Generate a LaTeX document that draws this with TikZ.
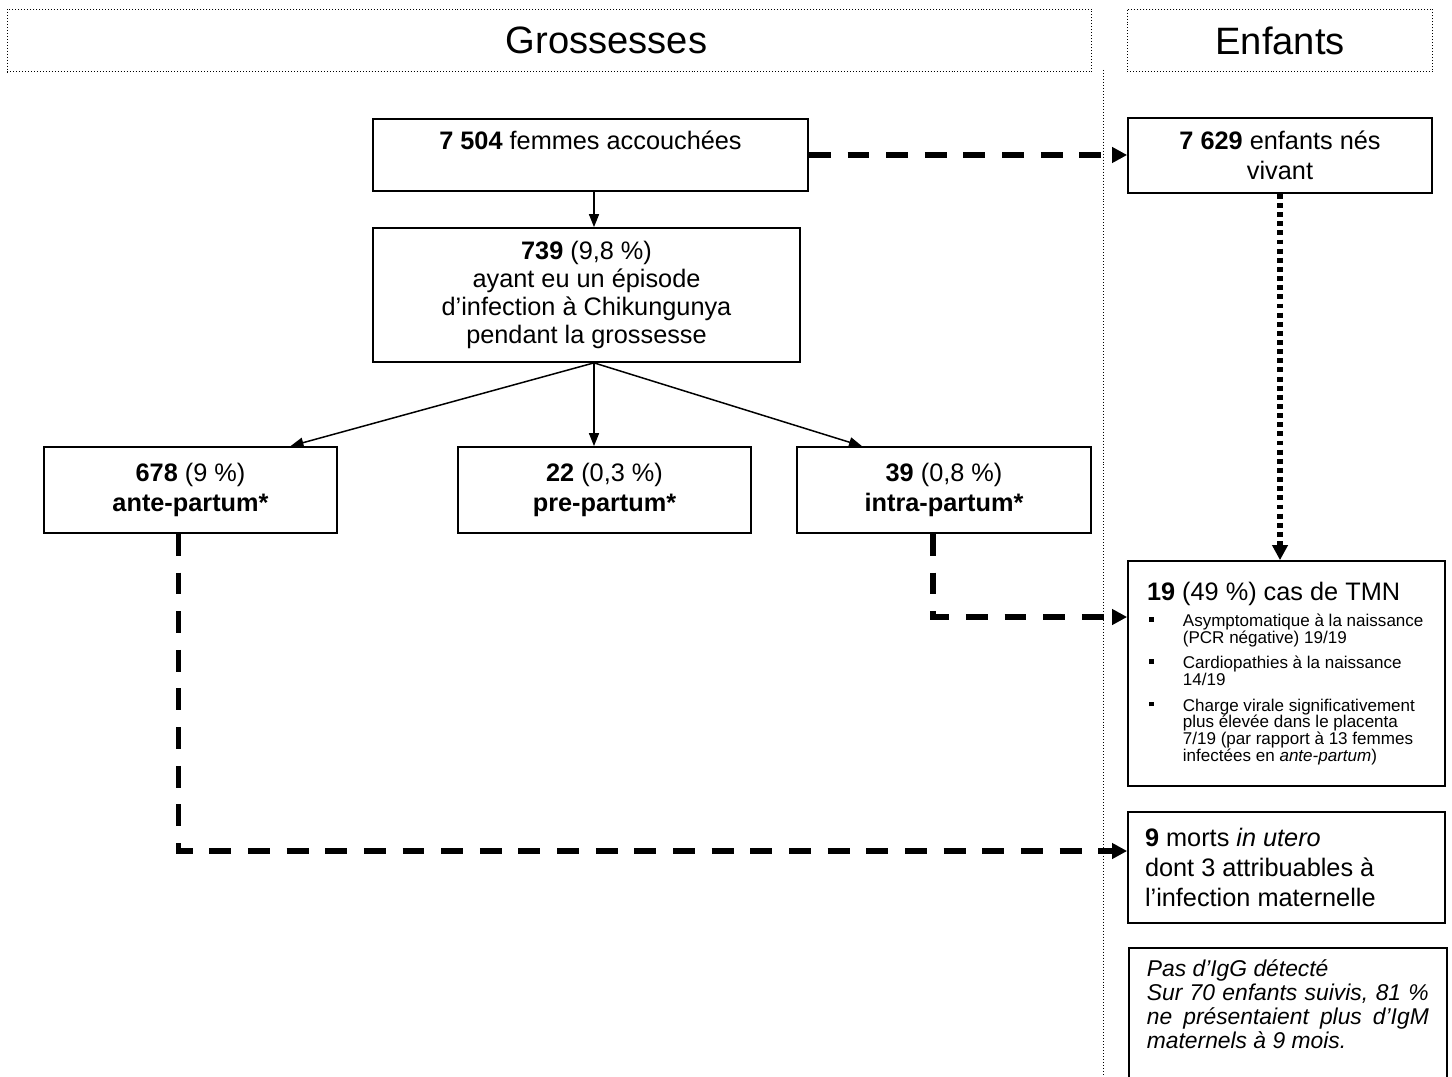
\documentclass[tikz,border=0pt]{standalone}
\usepackage{fontspec}
\setmainfont{Liberation Sans}
\usetikzlibrary{arrows.meta,positioning,calc}
\setlength{\parindent}{0pt}
\newcommand{\puce}{\par\vspace{5.25pt}\noindent\hangindent=20.4pt\hangafter=1%
  \makebox[20.4pt][l]{\hspace{1.1pt}\raisebox{2.8pt}{\rule{2.6pt}{2.6pt}}}}

\begin{document}
\begin{tikzpicture}[x=0.02cm,y=-0.02cm,
  cadre/.style={draw,line width=1pt,inner sep=0pt,font={\fontsize{14.4}{17}\selectfont}},
  entete/.style={draw,line width=0.567pt,dash pattern=on 0.567pt off 1.134pt,font={\fontsize{21.7}{26}\selectfont}},
  sep/.style={line width=0.567pt,dash pattern=on 0.567pt off 1.134pt},
  fleche/.style={-{Triangle[length=7.4pt,width=5.7pt]},line width=0.85pt},
  tiret/.style={-{Triangle[length=8.5pt,width=8.5pt]},line width=3pt,dash pattern=on 12.5pt off 9.5pt},
  pointille/.style={-{Triangle[length=8.5pt,width=8.5pt]},line width=3pt,dash pattern=on 2.8pt off 2.4pt}]

 \clip (0,0) rectangle (1452,1077);

 % column headers
 \node[entete,minimum width=21.7cm,minimum height=1.26cm] (grossesses) at (549.5,40.5) {\hspace{2.28cm}Grossesses};
 \node[entete,minimum width=6.12cm,minimum height=1.26cm] (enfants) at (1280,40.5) {Enfants};
 \draw[sep] (1103,70) -- (1103,1077);

 % pregnancies
 \node[cadre,align=center,minimum width=8.7cm,minimum height=1.44cm] (femmes) at (590.5,155)
   {\textbf{7~504} femmes accouchées\\\mbox{}};
 \node[cadre,align=center,minimum width=8.54cm,minimum height=2.68cm,font={\fontsize{14.4}{16}\selectfont}] (infect) at (586.5,295)
   {\textbf{739} (9,8~\%)\\ayant eu un épisode\\d’infection à Chikungunya\\pendant la grossesse};
 \node[cadre,align=center,minimum width=5.86cm,minimum height=1.72cm] (ante) at (190.5,490)
   {\textbf{678} (9~\%)\\\textbf{ante-partum*}};
 \node[cadre,align=center,minimum width=5.86cm,minimum height=1.72cm] (pre) at (604.5,490)
   {\textbf{22} (0,3~\%)\\\textbf{pre-partum*}};
 \node[cadre,align=center,minimum width=5.88cm,minimum height=1.72cm] (intra) at (944,490)
   {\textbf{39} (0,8~\%)\\\textbf{intra-partum*}};

 % children
 \node[cadre,align=center,minimum width=6.08cm,minimum height=1.5cm] (nes) at (1280,155.5)
   {\textbf{7~629} enfants nés\\vivant};
 \node[cadre,align=flush left,text width=5.58cm,inner xsep=0.38cm,minimum width=6.34cm,minimum height=4.5cm] (tmn) at (1286.5,673.5)
   {\textbf{19} (49~\%) cas de TMN\par
    {\fontsize{9.7}{9.45}\selectfont\lineskiplimit=-10pt
    \puce Asymptomatique à la naissance\newline (PCR négative) 19/19
    \puce Cardiopathies à la naissance\newline 14/19
    \puce Charge virale significativement\newline plus élevée dans le placenta\newline 7/19 (par rapport à 13 femmes\newline infectées en \textit{ante-partum})\par}};
 \node[cadre,align=flush left,text width=5.66cm,inner xsep=0.34cm,minimum width=6.34cm,minimum height=2.22cm] (mort) at (1286.5,867.5)
   {\textbf{9} morts \textit{in utero}\\dont 3 attribuables à\\l’infection maternelle};
 \node[cadre,anchor=north west,align=justify,text width=5.64cm,inner xsep=0.36cm,inner ysep=0.24cm,
   font={\fontsize{13}{13.6}\selectfont\itshape}] (igg) at (1128,947)
   {Pas d’IgG détecté\newline Sur 70 enfants suivis, 81~\%\linebreak ne présentaient plus d’IgM\linebreak maternels à 9 mois.\par\rule{0pt}{30pt}};

 % arrows
 \coordinate (fork) at ($(infect.south)+(7.5,0)$);
 \draw[fleche] (femmes.south -| fork) -- (infect.north -| fork);
 \draw[fleche] (fork) -- ($(ante.north)+(100,0)$);
 \draw[fleche] (fork) -- (fork |- pre.north);
 \draw[fleche] (fork) -- ($(intra.north)+(-82,0)$);
 \draw[tiret] (femmes.east) -- (femmes.east -| nes.west);
 \draw[pointille] (nes.south) -- (nes.south |- tmn.north);
 \draw[tiret] ($(intra.south)+(-11,0)$) |- ($(tmn.west)+(0,-56.5)$);
 \draw[tiret] ($(ante.south)+(-12,0)$) |- ($(mort.west)+(0,-16.5)$);
\end{tikzpicture}
\end{document}
